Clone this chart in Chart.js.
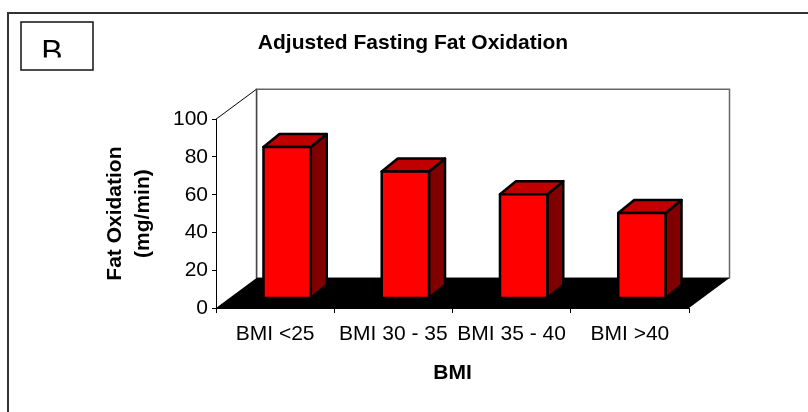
<!DOCTYPE html>
<html lang="en">
<head>
<meta charset="UTF-8">
<title>Adjusted Fasting Fat Oxidation</title>
<script src="https://cdn.jsdelivr.net/npm/chart.js@4.4.1/dist/chart.umd.min.js"></script>
<style>
    * { margin: 0; padding: 0; box-sizing: border-box; }
    body { background: #fff; width: 808px; height: 412px; overflow: hidden; }
    .chart-box { position: relative; width: 808px; height: 412px; }
</style>
</head>
<body>
<div class="chart-box"><canvas id="fatChart" width="808" height="412"></canvas></div>
<script>
// data
const categories = ['BMI <25', 'BMI 30 - 35', 'BMI 35 - 40', 'BMI >40'];
const fatOxidation = [80, 67, 55, 45];
const yTicks = [0, 20, 40, 60, 80, 100];

// look of the pseudo-3D box
const FONT = "'Liberation Sans', Arial, sans-serif";
const floorDepth = { dx: 40.5, dy: -30 };   // front plane -> back wall
const barShift = { dx: 12, dy: -10 };       // bars stand part way into the floor
const barDepth = { dx: 16, dy: -13 };

function poly(ctx, pts, fill, stroke, lw) {
    ctx.beginPath();
    ctx.moveTo(pts[0][0], pts[0][1]);
    for (let i = 1; i < pts.length; i++) ctx.lineTo(pts[i][0], pts[i][1]);
    ctx.closePath();
    if (fill) { ctx.fillStyle = fill; ctx.fill(); }
    if (stroke) { ctx.strokeStyle = stroke; ctx.lineWidth = lw; ctx.stroke(); }
}

const box3d = {
    id: 'box3d',
    beforeDraw(chart) {
        const ctx = chart.ctx;
        const { left, right, top, bottom } = chart.chartArea;
        const dx = floorDepth.dx, dy = floorDepth.dy;

        ctx.save();
        ctx.fillStyle = '#fff';
        ctx.fillRect(0, 0, chart.width, chart.height);

        // outer frame (runs off the right and bottom edges)
        ctx.strokeStyle = '#333';
        ctx.lineWidth = 2;
        ctx.beginPath();
        ctx.moveTo(8, chart.height);
        ctx.lineTo(8, 13);
        ctx.lineTo(chart.width, 13);
        ctx.stroke();

        // panel letter box
        ctx.lineWidth = 1.5;
        ctx.strokeStyle = '#111';
        ctx.strokeRect(21, 22, 72, 48);
        ctx.save();
        ctx.beginPath();
        ctx.rect(22, 23, 70, 34.5);
        ctx.clip();
        ctx.fillStyle = '#000';
        ctx.font = '32px ' + FONT;
        ctx.textAlign = 'center';
        ctx.textBaseline = 'alphabetic';
        ctx.fillText('B', 52, 62);
        ctx.restore();

        // back wall
        poly(ctx, [[left + dx, top + dy], [right + dx, top + dy], [right + dx, bottom + dy], [left + dx, bottom + dy]], '#fff', '#666', 1.5);
        // side wall
        poly(ctx, [[left, bottom], [left, top], [left + dx, top + dy], [left + dx, bottom + dy]], '#fff', null, 0);
        ctx.strokeStyle = '#000';
        ctx.lineWidth = 1;
        ctx.beginPath();
        ctx.moveTo(left, top);
        ctx.lineTo(left + dx, top + dy);
        ctx.stroke();
        ctx.strokeStyle = '#444';
        ctx.lineWidth = 1.5;
        ctx.beginPath();
        ctx.moveTo(left + dx, top + dy);
        ctx.lineTo(left + dx, bottom + dy);
        ctx.stroke();
        // floor
        poly(ctx, [[left, bottom], [right, bottom], [right + dx, bottom + dy], [left + dx, bottom + dy]], '#000', null, 0);
        ctx.restore();
    },
    afterDatasetsDraw(chart) {
        const ctx = chart.ctx;
        const y = chart.scales.y;
        const meta = chart.getDatasetMeta(0);
        const values = chart.data.datasets[0].data;
        const bx = barDepth.dx, by = barDepth.dy;

        ctx.save();
        ctx.lineJoin = 'round';
        meta.data.forEach((bar, i) => {
            const x0 = bar.x - bar.width / 2 + barShift.dx;
            const x1 = bar.x + bar.width / 2 + barShift.dx;
            const yt = y.getPixelForValue(values[i]) + barShift.dy;
            const yb = y.getPixelForValue(0) + barShift.dy;
            // right side
            poly(ctx, [[x1, yt], [x1 + bx, yt + by], [x1 + bx, yb + by], [x1, yb]], '#800000', '#000', 2.5);
            // top
            poly(ctx, [[x0, yt], [x0 + bx, yt + by], [x1 + bx, yt + by], [x1, yt]], '#c00000', '#000', 2.5);
            // front
            poly(ctx, [[x0, yt], [x1, yt], [x1, yb], [x0, yb]], '#ff0000', '#000', 2.5);
        });
        ctx.restore();
    }
};

const tickFont = { family: FONT, size: 21 };
const boldFont = { family: FONT, size: 21, weight: 'bold' };

new Chart(document.getElementById('fatChart'), {
    type: 'bar',
    data: {
        labels: categories,
        datasets: [{
            data: fatOxidation,
            backgroundColor: 'rgba(0,0,0,0)',
            borderWidth: 0,
            categoryPercentage: 1,
            barPercentage: 0.4
        }]
    },
    options: {
        responsive: false,
        animation: false,
        events: [],
        layout: { padding: { left: 95, right: 77, top: 0, bottom: 0 } },
        plugins: {
            legend: { display: false },
            tooltip: { enabled: false },
            title: {
                display: true,
                text: 'Adjusted Fasting Fat Oxidation',
                color: '#000',
                font: boldFont,
                padding: { top: 31, bottom: 63 }
            }
        },
        scales: {
            x: {
                offset: true,
                grid: { offset: true, drawOnChartArea: false, tickLength: 5, color: '#000' },
                border: { color: '#000', width: 1 },
                ticks: { color: '#000', font: tickFont, padding: 9, maxRotation: 0, autoSkip: false },
                title: { display: true, text: 'BMI', color: '#000', font: boldFont, padding: { top: 0, bottom: 26 } },
                afterFit(s) { s.height = 104; }
            },
            y: {
                min: 0,
                max: 100,
                afterBuildTicks(s) { s.ticks = yTicks.map(v => ({ value: v })); },
                grid: { drawOnChartArea: false, tickLength: 4, color: '#000' },
                border: { color: '#000', width: 1 },
                ticks: { color: '#000', font: tickFont, padding: 4 },
                title: {
                    display: true,
                    text: ['Fat Oxidation', '(mg/min)'],
                    color: '#000',
                    font: { family: FONT, size: 21, weight: 'bold', lineHeight: 1.33 },
                    padding: { top: 6, bottom: 10 }
                },
                afterFit(s) { s.width = 121; }
            },
            // keeps room for the back wall on the right
            spacer: {
                type: 'linear',
                position: 'right',
                grid: { display: false },
                border: { display: false },
                ticks: { display: false },
                afterFit(s) { s.width = 42; }
            }
        }
    },
    plugins: [box3d]
});
</script>
</body>
</html>
